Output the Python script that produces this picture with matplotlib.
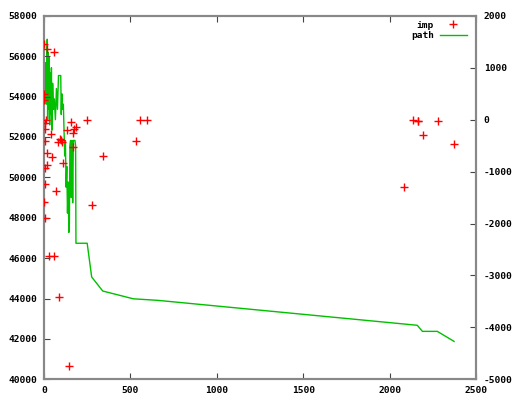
import matplotlib
matplotlib.use('Agg')
import matplotlib.pyplot as plt
import numpy as np

# imp points (left axis)
imp_x = [0, 19, 58, 0, 0, 12, 6, 4, 39, 4, 81, 97, 104, 90, 19, 45, 19, 4, 112,
         4, 69, 0, 8, 27, 58, 85, 143, 154, 135, 185, 174, 166, 251, 170, 340,
         276, 530, 556, 598, 2085, 2134, 2162, 2166, 2278, 2192, 2371]
imp_y = [56630, 56380, 56200, 54130, 53830, 52860, 52680, 52400, 52150, 51820,
         51740, 51850, 51740, 51900, 51190, 50990, 50620, 50450, 50720,
         49680, 49310, 48790, 48010, 46100, 46100, 44070, 40660, 52760, 52360,
         52510, 52400, 52180, 52860, 51490, 51040, 48620, 51800, 52860, 52860,
         49510, 52840, 52810, 52790, 52810, 52120, 51660]

# path (right axis)
path_x = [0, 3, 5, 7, 9, 11, 13, 16, 19, 21, 24, 27, 30, 33, 36, 40, 43, 47,
          50, 55, 60, 66, 72, 78, 84, 90, 97, 100, 103, 108, 112, 116, 120,
          124, 128, 132, 136, 140, 144, 147, 150, 154, 158, 162, 166, 170, 179,
          183, 185, 250, 276, 340, 517, 660, 2160, 2190, 2276, 2373]
path_y = [200, 1000, 400, 1100, 600, 1000, 300, 1100, 1550, 0, 1300, 200, 1200,
          -100, 900, 100, 1000, -200, 700, 200, 400, 0, 600, 200, 850, 850, 850,
          100, 500, 200, 300, -200, -700, -400, -1300, -900, -1800, -1200,
          -2170, -2000, -500, -400, -1500, -400, -1600, -400, -400, -500, -2380,
          -2380, -3030, -3300, -3450, -3480, -3960, -4077, -4077, -4270]

plt.rcParams['font.family'] = 'DejaVu Sans Mono'
plt.rcParams['font.weight'] = 'bold'
plt.rcParams['font.size'] = 6.8
plt.rcParams['axes.unicode_minus'] = False

fig = plt.figure(figsize=(5.12, 3.96), dpi=100)
ax = fig.add_axes([0.0859, 0.0422, 0.8438, 0.9178])
ax2 = ax.twinx()

h1, = ax.plot(imp_x, imp_y, '+', color='#ff0000', markersize=5.5, mew=1.0,
              label='imp', zorder=3)
h2, = ax2.plot(path_x, path_y, '-', color='#00c000', lw=1.0, label='path')

ax.set_xlim(0, 2500)
ax.set_ylim(40000, 58000)
ax2.set_ylim(-5000, 2000)
ax.set_xticks(np.arange(0, 2501, 500))
ax.set_yticks(np.arange(40000, 58001, 2000))
ax2.set_yticks(np.arange(-5000, 2001, 1000))

for a in (ax, ax2):
    for s in a.spines.values():
        s.set_color('#888888')
        s.set_linewidth(1.5)
ax.tick_params(axis='x', direction='in', top=True, length=4, color='#444444', pad=5)
ax.tick_params(axis='y', direction='in', right=False, length=4, color='#444444', pad=5)
ax2.tick_params(axis='y', direction='in', length=4, color='#444444', pad=5.5)

ax.set_zorder(ax2.get_zorder() + 1)
ax.patch.set_visible(False)

leg = ax.legend(handles=[h1, h2], loc='upper right', bbox_to_anchor=(0.99, 1.0),
                frameon=False, markerfirst=False, handlelength=2.9,
                borderaxespad=0.3, labelspacing=0.2, handletextpad=0.6,
                borderpad=0.2)
for t in leg.get_texts():
    t.set_ha('right')
leg._legend_box.align = 'right'

fig.savefig('out.png', dpi=100)
